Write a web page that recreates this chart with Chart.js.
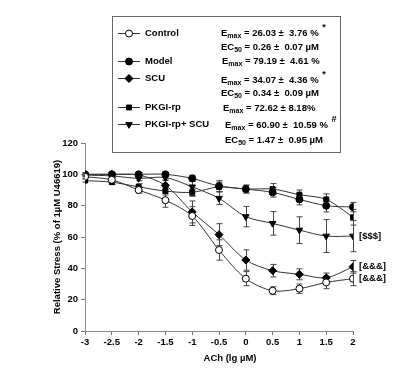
<!DOCTYPE html>
<html><head><meta charset="utf-8">
<script src="https://cdn.jsdelivr.net/npm/chart.js@4.4.1/dist/chart.umd.min.js"></script>
<style>html,body{margin:0;padding:0;background:#fff}#wrap{width:403px;height:370px;position:relative}</style>
</head><body><div id="wrap"><canvas id="c" width="403" height="370"></canvas></div>
<script>
const doses = [-3,-2.5,-2,-1.5,-1,-0.5,0,0.5,1,1.5,2];
const xTicks = [-3,-2.5,-2,-1.5,-1,-0.5,0,0.5,1,1.5,2];
const yTicks = [0,20,40,60,80,100,120];
const control    = [98.5,96.5,90,83.5,73.4,51.7,33.4,25.7,27,31,33.4];
const controlErr = [1,1.5,2,4.5,6,6.5,4.5,2.5,3,4,4.5];
const model      = [100,100,100,100,97.4,92.5,90.6,88.5,84,80,79.1];
const modelErr   = [1,1,1,1.5,2,3.5,2.5,3,3.5,4,3];
const scu        = [100,100,99.6,93,76,61.5,45.3,38.5,36.2,34,41];
const scuErr     = [1,1,1.5,3,7,7,6.5,4,3.5,3,4];
const pkg        = [96,95,92,89.3,88.5,92,90.6,90.6,87,84,72.6];
const pkgErr     = [1,1.5,2,2.5,2,3,2.5,3.5,3,3.5,5];
const combo      = [99.5,99,97.4,98,92,84.7,73,68.7,64.4,60.6,60.6];
const comboErr   = [1,1,1.5,1.5,6,4,6.5,7.5,8.5,10.5,10];
const seriesNames = ['Control','Model','SCU','PKGI-rp','PKGI-rp+ SCU'];
const endLabels = ['[&&&]', null, '[&&&]', null, '[$$$]'];
const statLines = [
  [['E','max',' = 26.03 \u00b1  3.76 % ','*'],['EC','50',' = 0.26 \u00b1  0.07 \u00b5M','']],
  [['E','max',' = 79.19 \u00b1  4.61 %','']],
  [['E','max',' = 34.07 \u00b1  4.36 % ','*'],['EC','50',' = 0.34 \u00b1  0.09 \u00b5M','']],
  [['E','max',' = 72.62 \u00b1 8.18%','']],
  [['E','max',' = 60.90 \u00b1  10.59 % ','#'],['EC','50',' = 1.47 \u00b1  0.95 \u00b5M','']]
];

const F = '"Liberation Sans", Arial, sans-serif';
const LINE = '#333';
const styles = [
  {pointStyle:'circle', bg:'#fff', r:3.5, rot:0},
  {pointStyle:'circle', bg:'#000', r:3.5, rot:0},
  {pointStyle:'rectRot', bg:'#000', r:4, rot:0},
  {pointStyle:'rect', bg:'#000', r:3.5, rot:0},
  {pointStyle:'triangle', bg:'#000', r:3.8, rot:180}
];
const vals = [control, model, scu, pkg, combo];
const errs = [controlErr, modelErr, scuErr, pkgErr, comboErr];

const datasets = vals.map((v,i)=>({
  label: seriesNames[i],
  data: doses.map((d,j)=>({x:d,y:v[j]})),
  borderColor: LINE, borderWidth: 1,
  backgroundColor: styles[i].bg,
  pointBackgroundColor: styles[i].bg,
  pointBorderColor: '#000', pointBorderWidth: 1,
  pointStyle: styles[i].pointStyle, pointRadius: styles[i].r, pointRotation: styles[i].rot,
  tension: 0.3, fill:false
}));

function drawSubText(ctx, x, y, parts){
  const [a,sub,b,sup] = parts;
  ctx.font = 'bold 9.5px '+F; ctx.textBaseline='middle'; ctx.textAlign='left';
  ctx.fillText(a,x,y); let w = ctx.measureText(a).width;
  ctx.font = 'bold 7px '+F; ctx.fillText(sub,x+w,y+3); w += ctx.measureText(sub).width;
  ctx.font = 'bold 9.5px '+F; ctx.fillText(b,x+w,y); w += ctx.measureText(b).width;
  if(sup){ ctx.font='bold 9px '+F; ctx.fillText(sup,x+w+1,y-5); }
}

const plugin = {
  id:'extras',
  beforeDatasetsDraw(chart){
    const ctx = chart.ctx, xs = chart.scales.x, ys = chart.scales.y;
    ctx.save(); ctx.strokeStyle='#444'; ctx.lineWidth=1;
    vals.forEach((v,i)=>{
      v.forEach((val,j)=>{
        const px = Math.round(xs.getPixelForValue(doses[j]))+0.5;
        const t = ys.getPixelForValue(val+errs[i][j]), b = ys.getPixelForValue(val-errs[i][j]);
        ctx.beginPath();
        ctx.moveTo(px,t); ctx.lineTo(px,b);
        ctx.moveTo(px-3,t); ctx.lineTo(px+3,t);
        ctx.moveTo(px-3,b); ctx.lineTo(px+3,b);
        ctx.stroke();
      });
    });
    ctx.restore();
  },
  afterDraw(chart){
    const ctx = chart.ctx, xs = chart.scales.x, ys = chart.scales.y, ca = chart.chartArea;
    ctx.save();
    ctx.fillStyle='#000'; ctx.font='bold 9.5px '+F; ctx.textBaseline='middle'; ctx.textAlign='left';
    vals.forEach((v,i)=>{
      if(endLabels[i]){
        ctx.fillText(endLabels[i], xs.getPixelForValue(doses[doses.length-1])+6, ys.getPixelForValue(v[v.length-1]));
      }
    });
    ctx.font='bold 9.5px '+F; ctx.textAlign='center';
    ctx.fillText('ACh (lg \u00b5M)', 230, 358);
    ctx.save(); ctx.translate(57, (ca.top+ca.bottom)/2); ctx.rotate(-Math.PI/2);
    ctx.fillText('Relative Stress (% of 1\u00b5M U46619)', 0, 0); ctx.restore();
    ctx.fillStyle='#fff'; ctx.fillRect(112.5,16.5,228,136);
    ctx.strokeStyle='#666'; ctx.lineWidth=1; ctx.strokeRect(112.5,16.5,228,136);
    const rowY = [33,61,78,107,124];
    const statY = [[33,47],[61],[80,93],[108],[125,140]];
    const statX = [221,222,221,223,225];
    rowY.forEach((y,i)=>{
      ctx.strokeStyle=LINE; ctx.lineWidth=1;
      ctx.beginPath(); ctx.moveTo(118,y+0.5); ctx.lineTo(140,y+0.5); ctx.stroke();
      ctx.fillStyle=styles[i].bg; ctx.strokeStyle='#000';
      Chart.helpers.drawPoint(ctx,{pointStyle:styles[i].pointStyle, radius:styles[i].r, rotation:styles[i].rot, borderWidth:1}, 129, y+0.5);
      ctx.fillStyle='#000'; ctx.font='bold 9.5px '+F; ctx.textAlign='left'; ctx.textBaseline='middle';
      ctx.fillText(seriesNames[i],145,y);
      statLines[i].forEach((p,k)=>{ ctx.fillStyle='#000'; drawSubText(ctx, statX[i], statY[i][k], p); });
    });
    ctx.restore();
  }
};

new Chart(document.getElementById('c'), {
  type:'line',
  data:{datasets},
  options:{
    responsive:false, animation:false, devicePixelRatio:1,
    layout:{padding:{left:0,top:143,right:50,bottom:0}},
    plugins:{legend:{display:false}, tooltip:{enabled:false}},
    scales:{
      x:{type:'linear', min:-3, max:2,
        afterBuildTicks: s=>{ s.ticks = xTicks.map(v=>({value:v})); },
        afterFit: s=>{ s.height = 39; },
        grid:{display:true, drawOnChartArea:false, tickLength:4, color:'#777'},
        border:{color:'#888', width:1},
        ticks:{color:'#000', font:{family:F, weight:'bold', size:9.5}, padding:2, maxRotation:0, autoSkip:false,
          callback: v => String(v)}
      },
      y:{min:0, max:120,
        afterBuildTicks: s=>{ s.ticks = yTicks.map(v=>({value:v})); },
        afterFit: s=>{ s.width = 85; },
        grid:{display:true, drawOnChartArea:false, tickLength:4, color:'#777'},
        border:{color:'#888', width:1},
        ticks:{color:'#000', font:{family:F, weight:'bold', size:9.5}, padding:3, callback: v => String(v)}
      }
    }
  },
  plugins:[plugin]
});
</script></body></html>
